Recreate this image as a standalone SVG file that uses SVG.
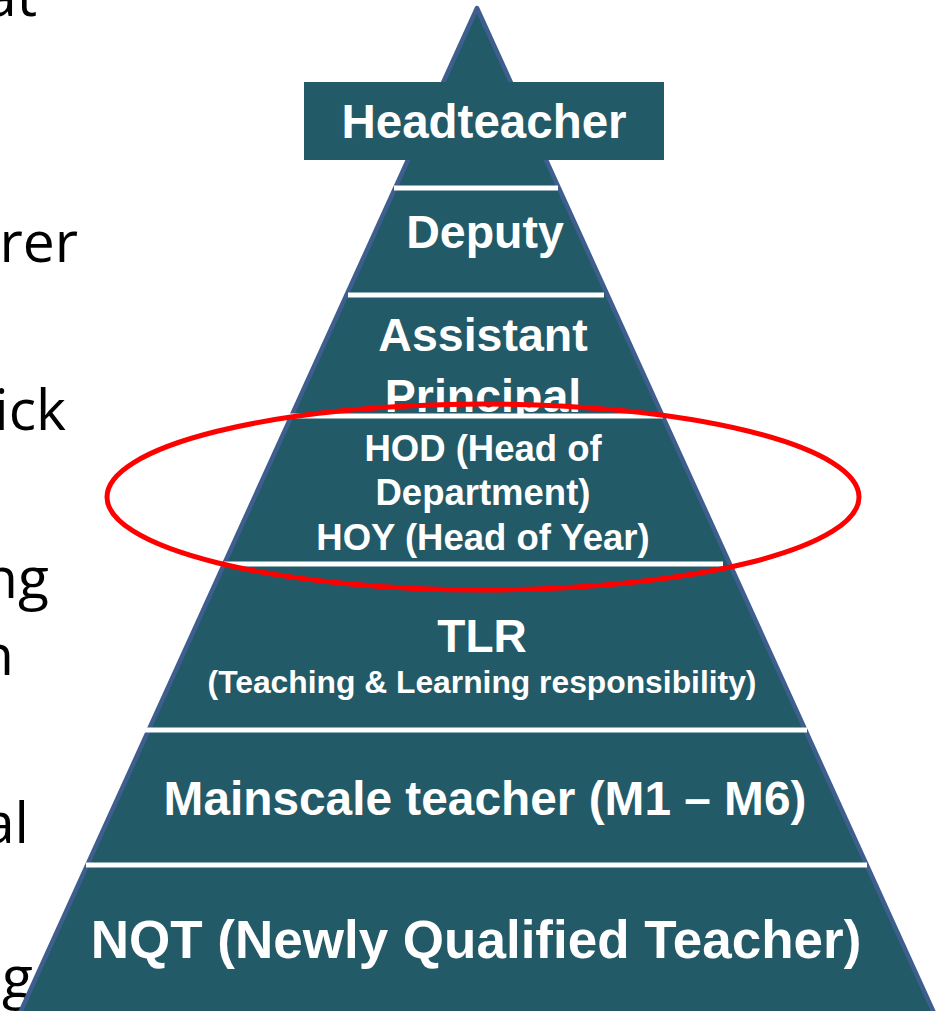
<svg xmlns="http://www.w3.org/2000/svg" width="941" height="1011" viewBox="0 0 941 1011">
<style>
.lvl{fill:#235a68;}
.lbl{font-family:"Liberation Sans",Arial,sans-serif;font-weight:bold;fill:#ffffff;text-anchor:middle;}
.side{font-family:"Open Sans","Noto Sans",sans-serif;font-size:57px;fill:#000000;text-anchor:end;}
.bar{stroke:#ffffff;stroke-width:5;}
</style>
<rect x="0" y="0" width="941" height="1011" fill="#ffffff"/>
<g id="side-text">
<text class="side" x="37" y="16">at</text>
<text class="side" x="78" y="262">rer</text>
<text class="side" x="66" y="430">ick</text>
<text class="side" x="49" y="598">ng</text>
<text class="side" x="14" y="675">n</text>
<text class="side" x="29" y="843">al</text>
<text class="side" x="33" y="997">g</text>
</g>
<g id="level-apex"><polygon class="lvl" points="477,8 559,188 395,188"/></g>
<g id="level-deputy"><polygon class="lvl" points="395,188 559,188 608,295 346,295"/>
<text class="lbl" x="485" y="248" font-size="46.5">Deputy</text></g>
<g id="level-assistant"><polygon class="lvl" points="346,295 608,295 663,416 291,416"/>
<text class="lbl" x="483" y="351" font-size="46.5">Assistant</text>
<text class="lbl" x="483" y="412" font-size="46.5">Principal</text></g>
<g id="level-hod"><polygon class="lvl" points="291,416 663,416 730,564 224,564"/>
<text class="lbl" x="483" y="461" font-size="36.5">HOD (Head of</text>
<text class="lbl" x="483" y="505" font-size="36.5">Department)</text>
<text class="lbl" x="483" y="550" font-size="36.5">HOY (Head of Year)</text></g>
<g id="level-tlr"><polygon class="lvl" points="224,564 730,564 805,730 149,730"/>
<text class="lbl" x="482" y="652" font-size="46">TLR</text>
<text class="lbl" x="482" y="693" font-size="31.8">(Teaching &amp; Learning responsibility)</text></g>
<g id="level-mainscale"><polygon class="lvl" points="149,730 805,730 867,865 87,865"/>
<text class="lbl" x="485" y="815" font-size="47.8">Mainscale teacher (M1 – M6)</text></g>
<g id="level-nqt"><polygon class="lvl" points="87,865 867,865 935,1015 19,1015"/>
<text class="lbl" x="476" y="958" font-size="53">NQT (Newly Qualified Teacher)</text></g>
<g id="connectors">
<path d="M19,1015 L477,8 L935,1015" fill="none" stroke="#3e5f8e" stroke-width="4.5" stroke-linejoin="round"/>
<line class="bar" x1="394" y1="188" x2="558" y2="188"/>
<line class="bar" x1="348" y1="295" x2="604" y2="295"/>
<line class="bar" x1="289" y1="416" x2="663" y2="416"/>
<line class="bar" x1="224" y1="564" x2="723" y2="564"/>
<line class="bar" x1="141" y1="730" x2="807" y2="730"/>
<line class="bar" x1="86" y1="865" x2="867" y2="865"/>
</g>
<g id="headteacher">
<rect x="304" y="82" width="360" height="78" fill="#235a68"/>
<text class="lbl" x="484" y="138" font-size="47.5">Headteacher</text>
</g>
<g id="highlight">
<ellipse cx="483" cy="497" rx="376" ry="93" fill="none" stroke="#ff0000" stroke-width="5"/>
</g>
</svg>
